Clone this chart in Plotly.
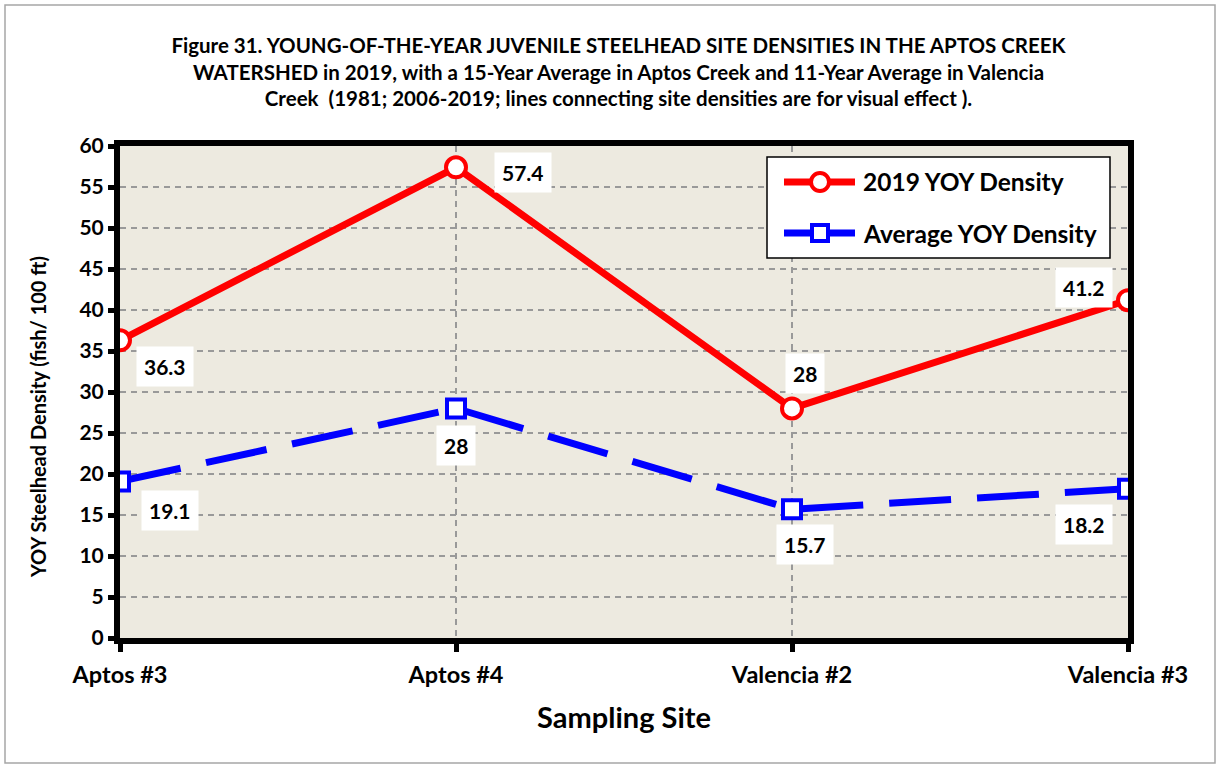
import plotly.graph_objects as go

sites = ["Aptos #3", "Aptos #4", "Valencia #2", "Valencia #3"]
yoy_2019 = [36.3, 57.4, 28, 41.2]
yoy_avg = [19.1, 28, 15.7, 18.2]
y_ticks = list(range(0, 61, 5))
series_names = ["2019 YOY Density", "Average YOY Density"]
series_colors = ["#FF0000", "#0000FF"]

FONT = "Lato, 'Open Sans', sans-serif"
xpos = list(range(len(sites)))

# layout geometry (pixels)
W, H = 1220, 768
ML, MR, MT, MB = 120, 92, 146, 130
PW, PH = W - ML - MR, H - MT - MB


def px2x(px):
    return (px - ML) / PW


def px2y(py):
    return (H - MB - py) / PH


fig = go.Figure()
fig.add_trace(go.Scatter(
    x=xpos, y=yoy_2019, name=series_names[0], mode="lines+markers",
    line=dict(color=series_colors[0], width=7),
    marker=dict(symbol="circle", size=20, color="white", line=dict(color=series_colors[0], width=4)),
))
fig.add_trace(go.Scatter(
    x=xpos, y=yoy_avg, name=series_names[1], mode="lines+markers",
    line=dict(color=series_colors[1], width=7, dash="62px,26px"),
    marker=dict(symbol="square", size=18, color="white", line=dict(color=series_colors[1], width=4)),
))

# data labels
red_shift = [(45, -26), (67, -5), (13, 35), (-44, 13)]
blue_shift = [(50, -29), (0, -37), (13, -35), (-44, -36)]
for vals, shifts in ((yoy_2019, red_shift), (yoy_avg, blue_shift)):
    for i, (v, (dx, dy)) in enumerate(zip(vals, shifts)):
        fig.add_annotation(x=xpos[i], y=v, xref="x", yref="y", text=f"<b>{v:g}</b>",
                           showarrow=False, xshift=dx, yshift=dy, bgcolor="white",
                           borderpad=7, font=dict(family=FONT, size=21, color="black"))

title = ("<b>Figure 31. YOUNG-OF-THE-YEAR JUVENILE STEELHEAD SITE DENSITIES IN THE APTOS CREEK<br>"
         "WATERSHED in 2019, with a 15-Year Average in Aptos Creek and 11-Year Average in Valencia<br>"
         "Creek  (1981; 2006-2019; lines connecting site densities are for visual effect ).</b>")

shapes = [
    # outer chart border
    dict(type="rect", xref="paper", yref="paper",
         x0=px2x(5), x1=px2x(1215), y0=px2y(763), y1=px2y(5),
         line=dict(color="#A6A6A6", width=1.5), fillcolor="rgba(0,0,0,0)", layer="below"),
    # legend box
    dict(type="rect", xref="paper", yref="paper",
         x0=px2x(767), x1=px2x(1110), y0=px2y(258), y1=px2y(157),
         line=dict(color="black", width=1.5), fillcolor="white", layer="above"),
]
annotations_extra = []
leg_rows = [182, 233]
for k, (name, col, ly) in enumerate(zip(series_names, series_colors, leg_rows)):
    shapes.append(dict(type="line", xref="paper", yref="paper",
                       x0=px2x(784), x1=px2x(855), y0=px2y(ly), y1=px2y(ly),
                       line=dict(color=col, width=7), layer="above"))
    r = 9 if k == 0 else 8
    shapes.append(dict(type="circle" if k == 0 else "rect", xref="paper", yref="paper",
                       x0=px2x(820 - r), x1=px2x(820 + r), y0=px2y(ly + r), y1=px2y(ly - r),
                       line=dict(color=col, width=4), fillcolor="white", layer="above"))
    annotations_extra.append(dict(xref="paper", yref="paper", x=px2x(861), y=px2y(ly),
                                  xanchor="left", yanchor="middle", showarrow=False,
                                  text=f"<b>{name}</b>",
                                  font=dict(family=FONT, size=24.5, color="black")))

# y-axis title as annotation
annotations_extra.append(dict(xref="paper", yref="paper", x=px2x(38), y=px2y(417),
                              xanchor="center", yanchor="middle", showarrow=False, textangle=-90,
                              text="<b>YOY Steelhead Density (fish/ 100 ft)</b>",
                              font=dict(family=FONT, size=20, color="black")))
for a in annotations_extra:
    fig.add_annotation(**a)

fig.update_layout(
    width=W, height=H,
    paper_bgcolor="white", plot_bgcolor="#EDEAE0",
    margin=dict(l=ML, r=MR, t=MT, b=MB),
    font=dict(family=FONT, color="black"),
    title=dict(text=title, x=0.507, xanchor="center", y=0.931, yanchor="top",
               font=dict(family=FONT, size=20.5, color="black")),
    showlegend=False,
    shapes=shapes,
)
fig.update_xaxes(
    range=[0, 3], tickmode="array", tickvals=xpos, ticktext=[f"<b>{s}</b>" for s in sites],
    tickfont=dict(family=FONT, size=23.5), ticks="outside", ticklen=8, tickwidth=5, tickcolor="black",
    ticklabelstandoff=3,
    showline=True, linewidth=6, linecolor="black", mirror=True,
    showgrid=True, gridcolor="#999999", gridwidth=1.5, griddash="6px,5px", zeroline=False,
    title=dict(text="<b>Sampling Site</b>", font=dict(family=FONT, size=29), standoff=22),
)
fig.update_yaxes(
    range=[0, 60], tickmode="array", tickvals=y_ticks, ticktext=[f"<b>{t}</b>" for t in y_ticks],
    tickfont=dict(family=FONT, size=21), ticks="outside", ticklen=6, tickwidth=5, tickcolor="black",
    showline=True, linewidth=6, linecolor="black", mirror=True,
    showgrid=True, gridcolor="#999999", gridwidth=1.5, griddash="6px,5px", zeroline=False,
)

fig.write_html("out.html", config={"displayModeBar": False},
               post_script="document.body.style.margin='0';")
